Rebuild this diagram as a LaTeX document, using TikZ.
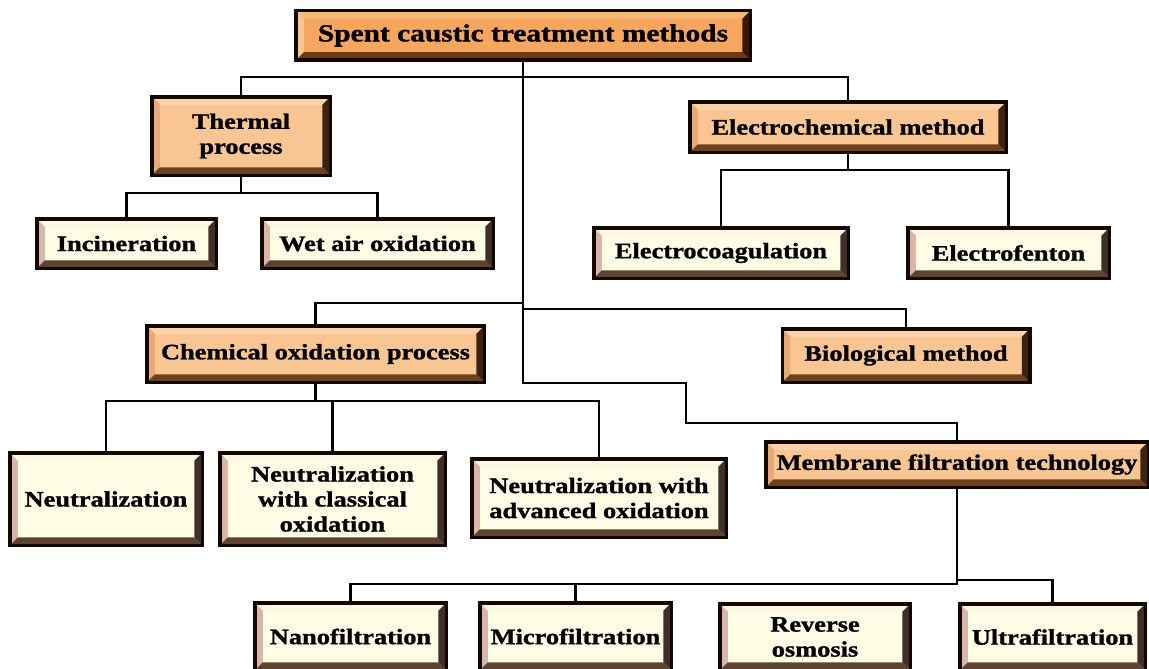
\documentclass[tikz,border=0pt]{standalone}
\usepackage{fontspec}
\newfontfamily\boxfont[FakeStretch=1.2,BoldFeatures={FakeBold=1.2}]{Liberation Serif}
\usetikzlibrary{calc}
\definecolor{boxline}{HTML}{120800}
\definecolor{rootface}{HTML}{F6A65E}
\definecolor{rootL}{HTML}{F9C590}
\definecolor{rootT}{HTML}{F8B878}
\definecolor{rootR}{HTML}{3A1806}
\definecolor{rootB}{HTML}{6A3A12}
\definecolor{orface}{HTML}{F9C693}
\definecolor{orL}{HTML}{E8A878}
\definecolor{orT}{HTML}{FBD3A8}
\definecolor{orR}{HTML}{3C2210}
\definecolor{orB}{HTML}{6B4220}
\definecolor{crface}{HTML}{FFFCE6}
\definecolor{crL}{HTML}{D8B5A6}
\definecolor{crT}{HTML}{FFF6E4}
\definecolor{crR}{HTML}{3E3028}
\definecolor{crB}{HTML}{5E4430}
\tikzset{
  set bevel/.code n args={4}{\def\bvL{#1}\def\bvT{#2}\def\bvR{#3}\def\bvB{#4}},
  wh/.style 2 args={minimum width={(#1-3.5)*1pt}, minimum height={(#2-3.5)*1pt}},
  bx/.style={rectangle, draw=boxline, line width=3.5pt, inner sep=0pt, align=center,
    font=\boxfont\bfseries\fontsize{22}{25}\selectfont, text=black,
    path picture={
      \path (path picture bounding box.south west) coordinate (pA)
            (path picture bounding box.north east) coordinate (pB);
      \fill[\bvT] (pA|-pB) -- (pB) -- ($(pB)+(-8pt,-8pt)$) -- ($(pA|-pB)+(8pt,-8pt)$) -- cycle;
      \fill[\bvL] (pA) -- (pA|-pB) -- ($(pA|-pB)+(8pt,-8pt)$) -- ($(pA)+(8pt,8pt)$) -- cycle;
      \fill[\bvB] (pA) -- (pB|-pA) -- ($(pB|-pA)+(-8pt,8pt)$) -- ($(pA)+(8pt,8pt)$) -- cycle;
      \fill[\bvR] (pB) -- (pB|-pA) -- ($(pB|-pA)+(-8pt,8pt)$) -- ($(pB)+(-8pt,-8pt)$) -- cycle;
    }},
  rootbox/.style={bx, fill=rootface, set bevel={rootL}{rootT}{rootR}{rootB},
    font=\boxfont\bfseries\fontsize{24.5}{27}\selectfont},
  obox/.style={bx, fill=orface, set bevel={orL}{orT}{orR}{orB}},
  cbox/.style={bx, fill=crface, set bevel={crL}{crT}{crR}{crB}},
  conn/.style={draw=black, line width=2.8pt, line join=miter, line cap=rect},
}
\begin{document}
\begin{tikzpicture}[x=1pt,y=-1pt]
\fill[white] (0,0) rectangle (1149,669);
\useasboundingbox (0,0) rectangle (1149,669);

% level 0
\node[rootbox, wh={458}{53}] (root) at (523,35.5) {Spent caustic treatment methods};

% level 1
\node[obox, wh={182}{82}] (thermal) at (241,136) {Thermal\\process};
\node[obox, wh={320}{54}] (electro) at (848,127) {Electrochemical method};
\node[obox, wh={341}{60}] (chemox) at (315.5,354) {Chemical oxidation process};
\node[obox, wh={251}{57}] (bio) at (906,355.5) {Biological method};
\node[obox, wh={386}{49}] (membrane) at (957,464.5) {Membrane filtration technology};

% level 2
\node[cbox, wh={183}{53}] (incin) at (126.5,243.5) {Incineration};
\node[cbox, wh={235}{53}] (wet) at (377.5,243.5) {Wet air oxidation};
\node[cbox, wh={258}{54}] (ecoag) at (721,253) {Electrocoagulation};
\node[cbox, wh={205}{54}] (efent) at (1008.5,253) {Electrofenton};
\node[cbox, wh={196}{96}] (neut) at (106,499) {Neutralization};
\node[cbox, wh={229}{96}] (classic) at (332.5,499) {Neutralization\\with classical\\oxidation};
\node[cbox, wh={258}{82}] (adv) at (599,498) {Neutralization with\\advanced oxidation};
\node[cbox, wh={195}{71}] (nano) at (350.5,636.5) {Nanofiltration};
\node[cbox, wh={195}{71}] (micro) at (575.5,636.5) {Microfiltration};
\node[cbox, wh={194}{70}] (rev) at (815,637) {Reverse\\osmosis};
\node[cbox, wh={189}{70}] (ultra) at (1052.5,637) {Ultrafiltration};

% junction coordinates
\coordinate (bus0) at (0,77);
\coordinate (busL) at (0,303);
\coordinate (busR) at (0,309);
\coordinate (s1) at (686,383);
\coordinate (s2) at (686,423);
\coordinate (busT) at (0,193);
\coordinate (busE) at (0,170);
\coordinate (busC) at (0,401);
\coordinate (busM) at (0,584);
\coordinate (busM2) at (0,580);

% connectors
\draw[conn] (thermal.north) -- (thermal.north |- bus0) -- (electro.north |- bus0) -- (electro.north);
\draw[conn] (root.south) -- (root.south |- s1) -- (s1) -- (s2) -- (s2 -| membrane.north) -- (membrane.north);
\draw[conn] (root.south |- busL) -- (chemox.north |- busL) -- (chemox.north);
\draw[conn] (root.south |- busR) -- (bio.north |- busR) -- (bio.north);
\draw[conn] (thermal.south) -- (thermal.south |- busT);
\draw[conn] (incin.north) -- (incin.north |- busT) -- (wet.north |- busT) -- (wet.north);
\draw[conn] (electro.south) -- (electro.south |- busE);
\draw[conn] (ecoag.north) -- (ecoag.north |- busE) -- (efent.north |- busE) -- (efent.north);
\draw[conn] (chemox.south) -- (chemox.south |- busC);
\draw[conn] (neut.north) -- (neut.north |- busC) -- (adv.north |- busC) -- (adv.north);
\draw[conn] (classic.north) -- (classic.north |- busC);
\draw[conn] (membrane.south) -- (membrane.south |- busM) -- (nano.north |- busM) -- (nano.north);
\draw[conn] (micro.north) -- (micro.north |- busM);
\draw[conn] (membrane.south |- busM2) -- (ultra.north |- busM2) -- (ultra.north);
\end{tikzpicture}
\end{document}
